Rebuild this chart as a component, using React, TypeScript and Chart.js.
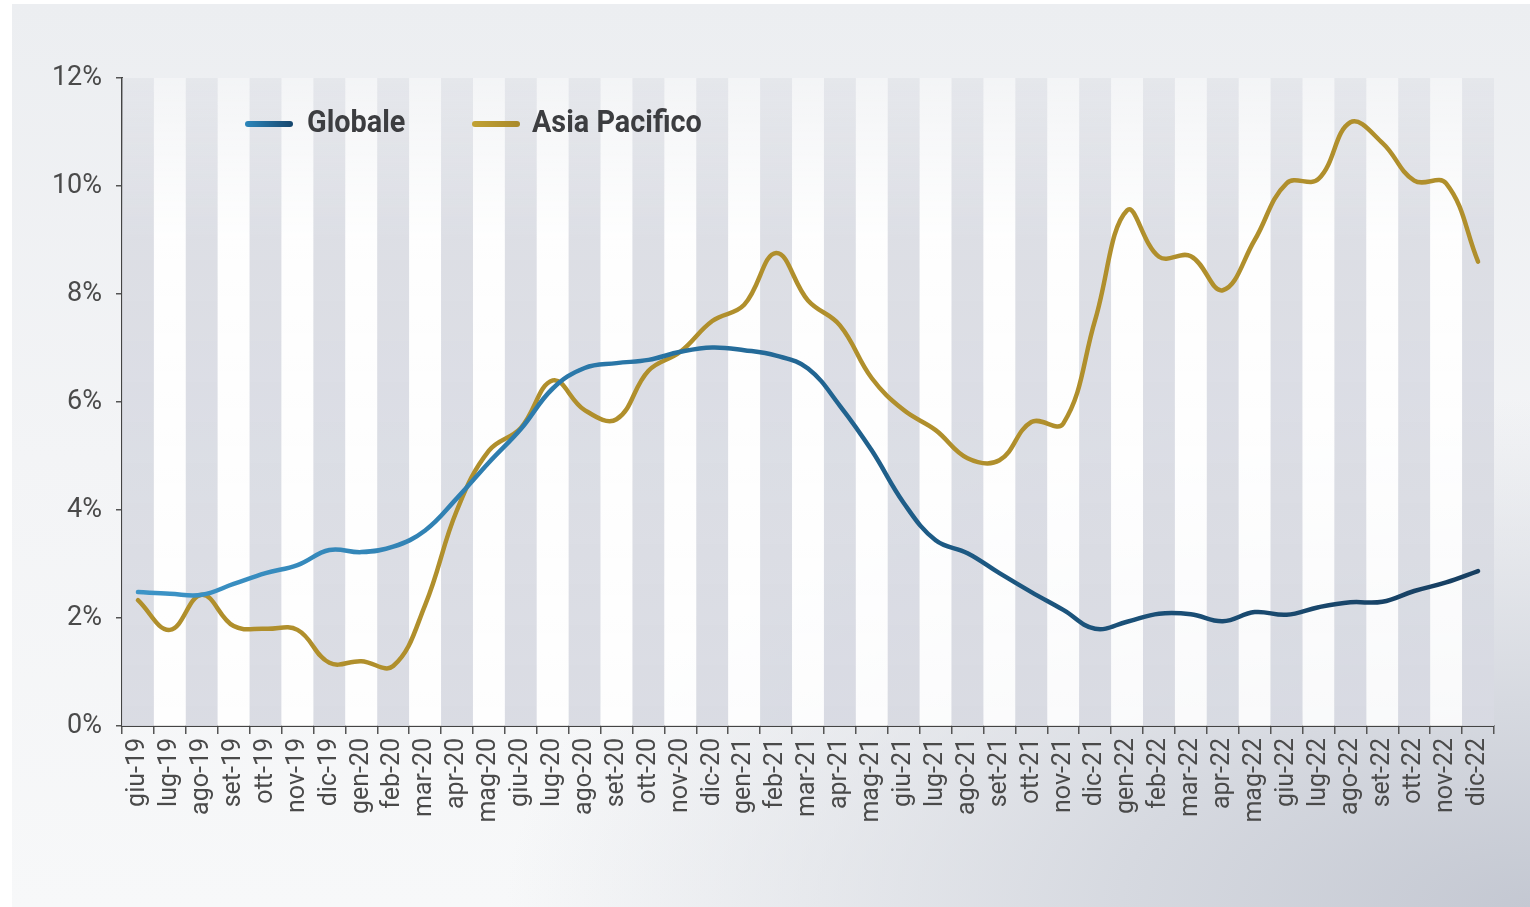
import React, { useEffect, useRef } from "react";
import { Chart, registerables } from "chart.js";

Chart.register(...registerables);

const months = [
  "giu-19", "lug-19", "ago-19", "set-19", "ott-19", "nov-19", "dic-19",
  "gen-20", "feb-20", "mar-20", "apr-20", "mag-20", "giu-20", "lug-20", "ago-20", "set-20", "ott-20", "nov-20", "dic-20",
  "gen-21", "feb-21", "mar-21", "apr-21", "mag-21", "giu-21", "lug-21", "ago-21", "set-21", "ott-21", "nov-21", "dic-21",
  "gen-22", "feb-22", "mar-22", "apr-22", "mag-22", "giu-22", "lug-22", "ago-22", "set-22", "ott-22", "nov-22", "dic-22",
];

const globale = [
  2.48, 2.45, 2.43, 2.63, 2.83, 2.98, 3.26,
  3.22, 3.32, 3.62, 4.22, 4.88, 5.5, 6.25, 6.63, 6.72, 6.78, 6.93, 7.01,
  6.96, 6.86, 6.62, 5.93, 5.1, 4.13, 3.44, 3.2, 2.83, 2.48, 2.15, 1.8,
  1.93, 2.08, 2.07, 1.94, 2.11, 2.06, 2.2, 2.29, 2.3, 2.5, 2.66, 2.87,
];

const asiaPacifico = [
  2.33, 1.78, 2.43, 1.85, 1.8, 1.78, 1.17,
  1.2, 1.11, 2.24, 4.0, 5.1, 5.52, 6.4, 5.85, 5.68, 6.58, 6.93, 7.5,
  7.8, 8.76, 7.88, 7.42, 6.44, 5.85, 5.48, 4.96, 4.92, 5.63, 5.6, 7.52,
  9.55, 8.69, 8.7, 8.07, 9.0, 10.05, 10.13, 11.18, 10.8, 10.1, 10.05, 8.6,
];

const yTicks = [0, 2, 4, 6, 8, 10, 12];

const seriesNames = ["Globale", "Asia Pacifico"];

const FONT = "Roboto, 'Noto Sans', sans-serif";

const bandsPlugin = {
  id: "bands",
  beforeDatasetsDraw(chart: any) {
    const { ctx, chartArea, scales } = chart;
    const x = scales.x;
    const n = chart.data.labels.length;
    const w = (chartArea.right - chartArea.left) / n;
    ctx.save();
    for (let i = 0; i < n; i++) {
      const cx = x.getPixelForValue(i);
      const g = ctx.createLinearGradient(0, chartArea.top, 0, chartArea.bottom);
      if (i % 2 === 0) {
        g.addColorStop(0, "rgba(222,224,230,0.55)");
        g.addColorStop(0.25, "rgba(218,220,227,0.9)");
        g.addColorStop(1, "rgba(216,218,226,0.95)");
      } else {
        g.addColorStop(0, "rgba(255,255,255,0.35)");
        g.addColorStop(0.25, "rgba(255,255,255,0.9)");
        g.addColorStop(1, "rgba(255,255,255,0.85)");
      }
      ctx.fillStyle = g;
      ctx.fillRect(cx - w / 2, chartArea.top, w, chartArea.bottom - chartArea.top);
    }
    ctx.restore();
  },
};

function globaleColor(context: any) {
  const chart = context.chart;
  const area = chart.chartArea;
  if (!area) return "#1f6590";
  const g = chart.ctx.createLinearGradient(area.left, 0, area.right, 0);
  g.addColorStop(0, "#3d95c8");
  g.addColorStop(0.35, "#2a77a8");
  g.addColorStop(0.6, "#1d5a84");
  g.addColorStop(1, "#173e60");
  return g;
}

export default function App() {
  const canvasRef = useRef<HTMLCanvasElement | null>(null);

  useEffect(() => {
    const canvas = canvasRef.current;
    if (!canvas) return;
    const chart = new Chart(canvas, {
      type: "line",
      data: {
        labels: months,
        datasets: [
          {
            label: seriesNames[0],
            data: globale,
            borderColor: globaleColor,
            borderWidth: 4.5,
            pointRadius: 0,
            tension: 0.4,
            fill: false,
            borderCapStyle: "round",
          },
          {
            label: seriesNames[1],
            data: asiaPacifico,
            borderColor: "#b08f2c",
            borderWidth: 4.5,
            pointRadius: 0,
            tension: 0.4,
            fill: false,
            borderCapStyle: "round",
          },
        ],
      },
      options: {
        responsive: false,
        animation: false,
        layout: { padding: { left: 0, top: 78, right: 36, bottom: 81 } },
        plugins: {
          legend: { display: false },
          tooltip: { enabled: false },
        },
        scales: {
          x: {
            type: "category",
            offset: true,
            grid: {
              offset: true,
              drawOnChartArea: false,
              drawTicks: true,
              tickLength: 8,
              color: "#555",
              lineWidth: 1.5,
            },
            border: { display: true, color: "#444", width: 2 },
            ticks: {
              autoSkip: false,
              maxRotation: 90,
              minRotation: 90,
              padding: 4,
              color: "#4a4a4a",
              font: { family: FONT, size: 25 },
            },
            afterFit(scale: any) {
              scale.height = 100;
            },
          },
          y: {
            min: 0,
            max: 12,
            afterBuildTicks(scale: any) {
              scale.ticks = yTicks.map((v) => ({ value: v }));
            },
            grid: {
              drawOnChartArea: false,
              drawTicks: true,
              tickLength: 6,
              color: "#555",
              lineWidth: 1.5,
            },
            border: { display: true, color: "#444", width: 2 },
            ticks: {
              padding: 14,
              color: "#4a4a4a",
              font: { family: FONT, size: 27 },
              callback: (v: any) => v + "%",
            },
            afterFit(scale: any) {
              scale.width = 122;
            },
          },
        },
      },
      plugins: [bandsPlugin],
    } as any);
    return () => chart.destroy();
  }, []);

  const legendText: React.CSSProperties = {
    position: "absolute",
    top: 106,
    fontFamily: FONT,
    fontWeight: 700,
    fontSize: 31,
    lineHeight: "31px",
    color: "#3c3d40",
    whiteSpace: "nowrap",
    transform: "scaleX(0.93)",
    transformOrigin: "0 50%",
  };

  return (
    <div
      style={{
        position: "fixed",
        left: 0,
        top: 0,
        width: 1530,
        height: 907,
        background: "#ffffff",
      }}
    >
      <div
        style={{
          position: "absolute",
          left: 12,
          top: 4,
          width: 1518,
          height: 903,
          background:
            "radial-gradient(ellipse 90% 75% at 100% 100%, #c4c8d2 0%, #d6d9e0 30%, rgba(240,241,244,0) 75%), linear-gradient(180deg, #eceef1 0%, #f3f4f6 50%, #f7f8f9 100%)",
        }}
      />
      <canvas
        ref={canvasRef}
        width={1530}
        height={907}
        style={{ position: "absolute", left: 0, top: 0, width: 1530, height: 907 }}
      />
      <span
        style={{
          position: "absolute",
          left: 245,
          top: 121,
          width: 48,
          height: 6,
          borderRadius: 3,
          background: "linear-gradient(90deg, #2b86bb, #16466d)",
        }}
      />
      <span style={{ ...legendText, left: 307 }}>{seriesNames[0]}</span>
      <span
        style={{
          position: "absolute",
          left: 472,
          top: 121,
          width: 48,
          height: 6,
          borderRadius: 3,
          background: "linear-gradient(90deg, #c2a233, #a8892b)",
        }}
      />
      <span style={{ ...legendText, left: 532 }}>{seriesNames[1]}</span>
    </div>
  );
}
